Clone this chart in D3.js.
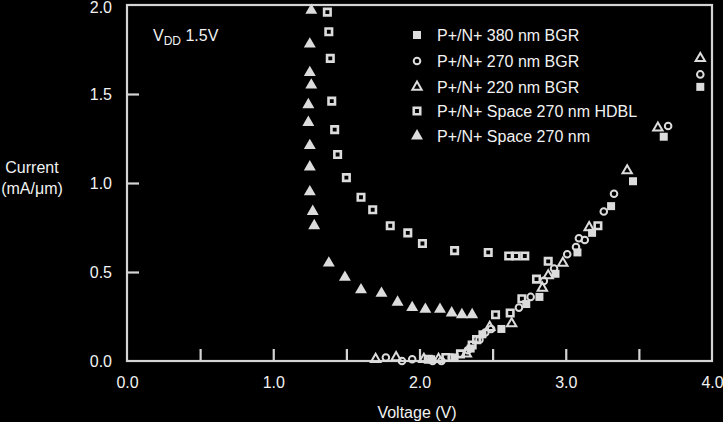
<!DOCTYPE html>
<html><head><meta charset="utf-8">
<script src="https://cdn.jsdelivr.net/npm/d3@7"></script>
<style>html,body{margin:0;padding:0;background:#000;}svg{display:block;}</style>
</head><body>
<script>
const xTicks = [0.5, 1.0, 1.5, 2.0, 2.5, 3.0, 3.5];
const xLabels = [0, 1, 2, 3, 4];
const yTicks = [0.5, 1.0, 1.5];
const yLabels = [0, 0.5, 1.0, 1.5, 2.0];

const seriesNames = ["P+/N+ 380 nm BGR","P+/N+ 270 nm BGR","P+/N+ 220 nm BGR","P+/N+ Space 270 nm HDBL","P+/N+ Space 270 nm"];

const bgr380 = [[2.08,0.01],[2.24,0.02],[2.35,0.07],[2.43,0.15],[2.56,0.18],[2.73,0.32],[2.82,0.36],[2.93,0.49],[3.08,0.61],[3.18,0.72],[3.31,0.87],[3.46,1.01],[3.67,1.26],[3.92,1.54]];
const bgr270 = [[1.77,0.02],[1.88,0.00],[1.95,0.01],[2.09,0.00],[2.15,0.00],[2.22,0.02],[2.33,0.06],[2.41,0.12],[2.45,0.16],[2.49,0.18],[2.68,0.30],[2.76,0.36],[2.85,0.45],[2.92,0.52],[3.01,0.60],[3.07,0.64],[3.09,0.69],[3.13,0.68],[3.26,0.84],[3.33,0.94],[3.70,1.32],[3.92,1.61]];
const bgr220 = [[1.70,0.01],[1.84,0.02],[2.03,0.01],[2.13,0.01],[2.32,0.04],[2.48,0.19],[2.63,0.21],[2.84,0.41],[2.88,0.48],[2.98,0.55],[3.16,0.75],[3.42,1.07],[3.63,1.31],[3.92,1.70]];
const hdbl = [[1.37,1.96],[1.38,1.85],[1.39,1.70],[1.40,1.46],[1.42,1.30],[1.44,1.16],[1.50,1.03],[1.60,0.92],[1.68,0.85],[1.80,0.76],[1.92,0.72],[2.02,0.66],[2.24,0.62],[2.47,0.61],[2.61,0.59],[2.66,0.59],[2.72,0.59],
  [2.06,0.01],[2.18,0.02],[2.28,0.04],[2.36,0.09],[2.39,0.12],[2.52,0.26],[2.62,0.27],[2.70,0.35],[2.80,0.46],[2.88,0.56],[3.22,0.76]];
const space270 = [[1.26,1.97],[1.25,1.78],[1.25,1.62],[1.26,1.55],[1.24,1.44],[1.24,1.34],[1.25,1.21],[1.25,1.09],[1.25,0.95],[1.27,0.84],[1.28,0.76],[1.38,0.55],[1.49,0.47],[1.60,0.40],[1.74,0.38],[1.85,0.33],[1.95,0.30],[2.04,0.29],[2.14,0.29],[2.22,0.27],[2.29,0.26],[2.36,0.26]];

const W = 723, H = 422;
const fg = "#dcdcdc", txt = "#f2f2f2", ax = "#d4d4d4";
const font = "Liberation Sans, Arial, sans-serif";
const fs = "16px";

const svg = d3.select("body").append("svg").attr("width", W).attr("height", H)
  .style("background", "#000").style("font-family", font);

const x = d3.scaleLinear().domain([0, 4]).range([127, 712]);
const y = d3.scaleLinear().domain([0, 2]).range([361, 5]);

// frame
svg.append("rect").attr("x", x(0)).attr("y", y(2)).attr("width", x(4) - x(0)).attr("height", y(0) - y(2))
  .attr("fill", "none").attr("stroke", ax).attr("stroke-width", 2.2);

// bottom axis: inward ticks, labels
const xAxis = d3.axisBottom(x).tickValues(xTicks).tickSizeInner(-12).tickSizeOuter(0).tickFormat("");
const gx = svg.append("g").attr("transform", `translate(0,${y(0)})`).call(xAxis);
gx.select(".domain").remove();
gx.selectAll(".tick line").attr("stroke", ax).attr("stroke-width", 2.2);
const xAxisL = d3.axisBottom(x).tickValues(xLabels).tickSize(0).tickPadding(16).tickFormat(d3.format(".1f"));
const gxl = svg.append("g").attr("transform", `translate(0,${y(0)})`).call(xAxisL);
gxl.select(".domain").remove();
gxl.selectAll("text").attr("fill", txt).style("font-size", fs).style("font-family", font);

const yAxis = d3.axisLeft(y).tickValues(yTicks).tickSizeInner(-12).tickSizeOuter(0).tickFormat("");
const gy = svg.append("g").attr("transform", `translate(${x(0)},0)`).call(yAxis);
gy.select(".domain").remove();
gy.selectAll(".tick line").attr("stroke", ax).attr("stroke-width", 2.2);
const yAxisL = d3.axisLeft(y).tickValues(yLabels).tickSize(0).tickPadding(15).tickFormat(d3.format(".1f"));
const gyl = svg.append("g").attr("transform", `translate(${x(0)},0)`).call(yAxisL);
gyl.select(".domain").remove();
gyl.selectAll("text").attr("fill", txt).style("font-size", fs).style("font-family", font);
gyl.selectAll(".tick").filter(d => d === 2).select("text").attr("dy", "0.45em");

// axis titles
svg.append("text").attr("x", 417).attr("y", 418).attr("text-anchor", "middle")
  .attr("fill", txt).style("font-size", fs).text("Voltage (V)");
svg.append("text").attr("x", 32).attr("y", 173).attr("text-anchor", "middle")
  .attr("fill", txt).style("font-size", fs).text("Current");
svg.append("text").attr("x", 32).attr("y", 194).attr("text-anchor", "middle")
  .attr("fill", txt).style("font-size", fs).text("(mA/\u03bcm)");

// VDD annotation
const vdd = svg.append("text").attr("x", 153).attr("y", 41).attr("fill", txt).style("font-size", fs);
vdd.append("tspan").text("V");
vdd.append("tspan").attr("dy", 4).style("font-size", "12px").text("DD");
vdd.append("tspan").attr("dy", -4).text(" 1.5V");

// marker renderers
function marker(g, type) {
  if (type === 0) { // filled square
    g.append("path").attr("d", d3.symbol(d3.symbolSquare, 64)()).attr("fill", fg);
  } else if (type === 1) { // open circle
    g.append("circle").attr("r", 3.3).attr("fill", "none").attr("stroke", fg).attr("stroke-width", 2);
  } else if (type === 2) { // open triangle
    g.append("path").attr("d", d3.symbol(d3.symbolTriangle, 38)()).attr("fill", "none").attr("stroke", fg).attr("stroke-width", 2).attr("stroke-linejoin", "miter");
  } else if (type === 3) { // open square
    g.append("path").attr("d", d3.symbol(d3.symbolSquare, 42)()).attr("fill", "none").attr("stroke", fg).attr("stroke-width", 2.6);
  } else { // filled triangle
    g.append("path").attr("d", d3.symbol(d3.symbolTriangle, 62)()).attr("fill", fg);
  }
}

const allSeries = [bgr380, bgr270, bgr220, hdbl, space270];
const drawOrder = [4, 3, 2, 0, 1];
drawOrder.forEach(i => {
  const g = svg.append("g");
  g.selectAll("g").data(allSeries[i]).join("g")
    .attr("transform", d => `translate(${x(d[0])},${y(d[1])})`)
    .each(function () { marker(d3.select(this), i); });
});

// legend
const legY = [35, 61, 87, 111, 136];
seriesNames.forEach((name, i) => {
  const g = svg.append("g").attr("transform", `translate(417,${legY[i]})`);
  marker(g, i);
  svg.append("text").attr("x", 437).attr("y", legY[i] + 5.5).attr("fill", txt)
    .style("font-size", fs).text(name);
});
</script>
</body></html>
